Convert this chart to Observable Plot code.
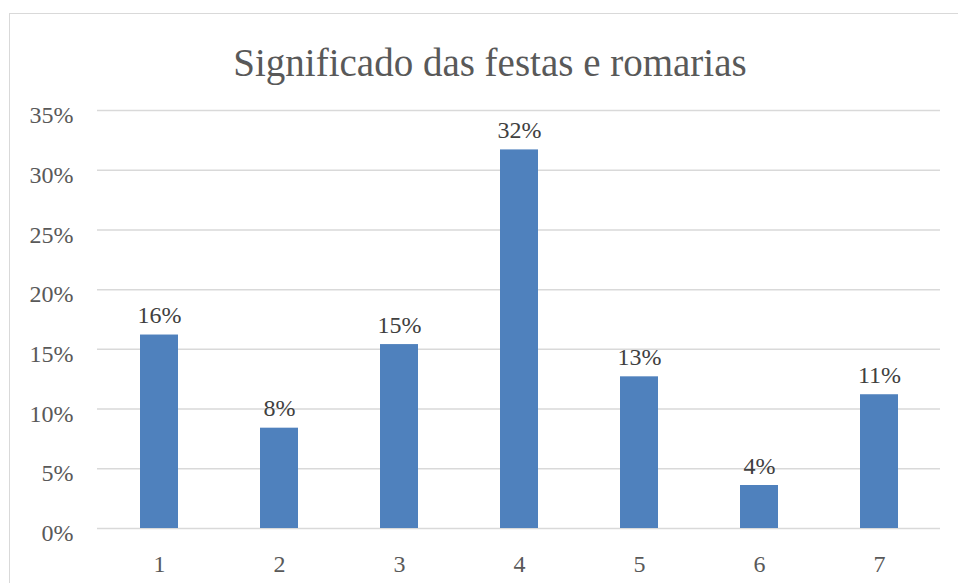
<!DOCTYPE html>
<html>
<head>
<meta charset="utf-8">
<script src="https://cdn.jsdelivr.net/npm/d3@7"></script>
<script src="https://cdn.jsdelivr.net/npm/@observablehq/plot@0.6"></script>
<style>
  html, body { margin: 0; padding: 0; background: #fff; overflow: hidden; }
  #wrap { position: relative; width: 958px; height: 583px; }
  #frame { position: absolute; left: 9px; top: 13px; width: 960px; height: 600px; border: 1.5px solid #d9d9d9; box-sizing: border-box; }
  #title { position: absolute; left: 0; width: 980px; top: 43px; text-align: center; font-family: "Liberation Serif", serif; font-size: 39px; color: #595959; line-height: 1; }
  #chart { position: absolute; left: 0; top: 0; }
</style>
</head>
<body>
<div id="wrap">
  <div id="frame"></div>
  <div id="title">Significado das festas e romarias</div>
  <div id="chart"></div>
</div>
<script>
const categories = ["1", "2", "3", "4", "5", "6", "7"];
const values = [0.162, 0.084, 0.154, 0.317, 0.127, 0.036, 0.112];
const yTicks = [0, 0.05, 0.10, 0.15, 0.20, 0.25, 0.30, 0.35];

const data = categories.map((c, i) => ({cat: c, value: values[i]}));
const fmt = d3.format(".0%");

const chart = Plot.plot({
  width: 958,
  height: 583,
  marginLeft: 97,
  marginRight: 18,
  marginTop: 110,
  marginBottom: 55,
  style: {fontFamily: "'Liberation Serif', serif", fontSize: "24px", color: "#595959", background: "transparent"},
  x: {domain: categories, paddingInner: 0.685, paddingOuter: 0.3425, label: null, tickSize: 0, tickPadding: 26},
  y: {domain: [0, 0.35], ticks: yTicks, tickFormat: fmt, label: null, tickSize: 0, tickPadding: 24},
  marks: [
    Plot.gridY(yTicks, {stroke: "#d9d9d9", strokeOpacity: 1, strokeWidth: 1.5}),
    Plot.barY(data, {x: "cat", y: "value", fill: "#4f81bd"}),
    Plot.text(data, {x: "cat", y: "value", text: d => fmt(d.value), lineAnchor: "bottom", dy: -12, fill: "#404040", fontSize: 24}),
    Plot.axisY({ticks: yTicks, tickFormat: fmt, tickSize: 0, tickPadding: 24, dy: 5, label: null}),
    Plot.axisX({tickSize: 0, tickPadding: 26, label: null})
  ]
});
document.getElementById("chart").appendChild(chart);
</script>
</body>
</html>
